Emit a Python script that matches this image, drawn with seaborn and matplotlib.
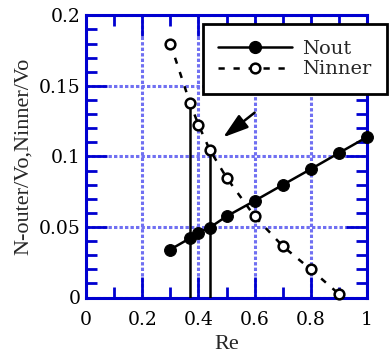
import numpy as np
import pandas as pd
import matplotlib
matplotlib.use("Agg")
import matplotlib.pyplot as plt
import seaborn as sns
from matplotlib.ticker import MultipleLocator
from matplotlib.lines import Line2D

re_out = [0.3, 0.37, 0.4, 0.44, 0.5, 0.6, 0.7, 0.8, 0.9, 1.0]
n_out = [0.034, 0.042, 0.046, 0.0495, 0.0575, 0.0685, 0.0798, 0.091, 0.1024, 0.1137]
re_in = [0.3, 0.37, 0.4, 0.44, 0.5, 0.6, 0.7, 0.8, 0.9]
n_in = [0.18, 0.138, 0.1225, 0.1048, 0.085, 0.0576, 0.0364, 0.0199, 0.0025]
vline_x = [0.37, 0.44]
vline_top = [0.138, 0.1048]
xticks = [0, 0.2, 0.4, 0.6, 0.8, 1]
xticklabels = ["0", "0.2", "0.4", "0.6", "0.8", "1"]
yticks = [0, 0.05, 0.1, 0.15, 0.2]
yticklabels = ["0", "0.05", "0.1", "0.15", "0.2"]

sns.set_theme(style="ticks")
plt.rcParams['font.family'] = ['DejaVu Serif']

BLUE = '#0000d0'
GRID = '#7070f2'

fig = plt.figure(figsize=(3.92, 3.62), dpi=100)
ax = fig.add_axes([86/392, 1-297.5/362, (367-86)/392, (297.5-15.3)/362])

ax.set_xlim(0, 1)
ax.set_ylim(0, 0.2)

ax.grid(True, which='major', color=GRID, linestyle=(0, (1.1, 0.7)), linewidth=2.2)
ax.set_axisbelow(True)

ax.vlines(vline_x, 0, vline_top, color='black', linewidth=1.8, zorder=3)

df_out = pd.DataFrame({"Re": re_out, "N": n_out})
df_in = pd.DataFrame({"Re": re_in, "N": n_in})

DASH = (0, (2.5, 3.5))
sns.lineplot(data=df_out, x="Re", y="N", ax=ax, color='black', linewidth=1.8,
             marker='o', markersize=8.5, markerfacecolor='black',
             markeredgecolor='black', clip_on=False, zorder=5)
sns.lineplot(data=df_in, x="Re", y="N", ax=ax, color='black', linewidth=1.8,
             linestyle=DASH, marker='o', markersize=7,
             markerfacecolor='white', markeredgecolor='black',
             markeredgewidth=1.8, clip_on=False, zorder=5)

ax.annotate("", xy=(0.488, 0.1135), xytext=(0.6, 0.131),
            arrowprops=dict(arrowstyle='-|>,head_length=1.1,head_width=0.35',
                            color='black', lw=1.8, mutation_scale=14,
                            shrinkA=0, shrinkB=0), zorder=6)

ax.set_xticks(xticks)
ax.set_xticklabels(xticklabels)
ax.set_yticks(yticks)
ax.set_yticklabels(yticklabels)
ax.xaxis.set_minor_locator(MultipleLocator(0.1))
ax.yaxis.set_minor_locator(MultipleLocator(0.01))

ax.tick_params(which='both', direction='in', colors=BLUE, top=True, right=True,
               bottom=True, left=True, labelcolor='black')
ax.tick_params(which='major', length=15, width=2, labelsize=13.5, pad=10)
ax.tick_params(axis='y', which='major', pad=4)
ax.tick_params(which='minor', length=8, width=2)

for s in ax.spines.values():
    s.set_visible(True)
    s.set_color(BLUE)
    s.set_linewidth(2.2)

ax.set_xlabel("Re", fontsize=16, family='Liberation Serif', labelpad=4)
ax.set_ylabel("N-outer/Vo,Ninner/Vo", fontsize=16, family='Liberation Serif',
              labelpad=4)

handles = [
    Line2D([], [], color='black', lw=1.8, marker='o', markersize=8.5,
           markerfacecolor='black'),
    Line2D([], [], color='black', lw=1.8, linestyle=DASH, marker='o',
           markersize=7, markerfacecolor='white', markeredgewidth=1.8),
]
leg = fig.legend(handles, ["Nout", "Ninner"], loc='upper left',
                 bbox_to_anchor=(202.7/392, 1-24/362), fontsize=14,
                 frameon=True, fancybox=False, framealpha=1, edgecolor='black',
                 handlelength=3.8, borderaxespad=0, borderpad=0.8,
                 labelspacing=0.15, handletextpad=0.5)
leg.get_frame().set_linewidth(2)
leg.set_zorder(10)

fig.savefig("out.png", dpi=100)
